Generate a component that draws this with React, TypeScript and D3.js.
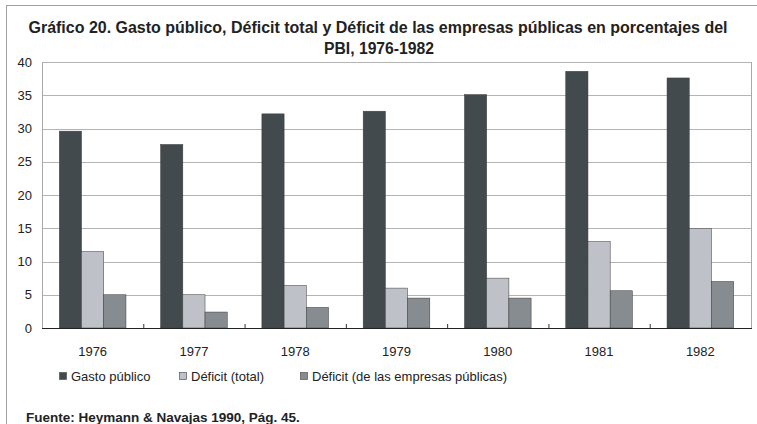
import React from "react";
import * as d3 from "d3";

const years = ["1976", "1977", "1978", "1979", "1980", "1981", "1982"];
const gastoPublico = [29.6, 27.6, 32.2, 32.6, 35.1, 38.6, 37.6];
const deficitTotal = [11.5, 5.0, 6.4, 6.0, 7.5, 13.0, 15.0];
const deficitEmpresas = [5.0, 2.4, 3.1, 4.5, 4.5, 5.6, 7.0];
const seriesNames = ["Gasto público", "Déficit (total)", "Déficit (de las empresas públicas)"];
const seriesColors = ["#434a4d", "#bec1c7", "#878c91"];
const yTicks = [0, 5, 10, 15, 20, 25, 30, 35, 40];

const W = 757;
const H = 424;
const M = { left: 42, right: 751, top: 62, bottom: 328 };

export default function App() {
  const series = [gastoPublico, deficitTotal, deficitEmpresas];
  const x = d3.scaleBand<string>().domain(years).range([M.left, M.right]).paddingInner(0).paddingOuter(0);
  const inner = d3
    .scaleBand<number>()
    .domain([0, 1, 2])
    .range([0, x.bandwidth()])
    .paddingOuter(0.78)
    .paddingInner(0);
  const y = d3.scaleLinear().domain([0, 40]).range([M.bottom, M.top]);
  const font = "'Liberation Sans', Arial, sans-serif";
  const legendX = [59, 179, 300];

  return (
    <svg width={W} height={H} style={{ position: "absolute", left: 0, top: 0, background: "#fff" }} fontFamily={font}>
      <rect x={0} y={0} width={W} height={H} fill="#fff" />
      {/* outer frame */}
      <line x1={6.5} y1={5} x2={6.5} y2={H} stroke="#a0a0a0" />
      <line x1={6} y1={5.5} x2={W} y2={5.5} stroke="#a0a0a0" />
      {/* title */}
      <text x={378} y={33} textAnchor="middle" fontSize={16} fontWeight="bold" fill="#222" textLength={699} lengthAdjust="spacingAndGlyphs">
        Gráfico 20. Gasto público, Déficit total y Déficit de las empresas públicas en porcentajes del
      </text>
      <text x={379} y={54} textAnchor="middle" fontSize={16} fontWeight="bold" fill="#222" textLength={110} lengthAdjust="spacingAndGlyphs">
        PBI, 1976-1982
      </text>
      {/* gridlines */}
      {yTicks.map((t) => (
        <g key={t}>
          {t > 0 && (
            <line x1={M.left} x2={M.right} y1={Math.round(y(t)) + 0.5} y2={Math.round(y(t)) + 0.5} stroke="#b4b4b4" />
          )}
          <text x={32} y={y(t)} dy="0.35em" textAnchor="end" fontSize={13} fill="#222">
            {t}
          </text>
        </g>
      ))}
      {/* plot border */}
      <line x1={M.left + 0.5} x2={M.left + 0.5} y1={M.top} y2={M.bottom} stroke="#a8a8a8" />
      <line x1={M.right + 0.5} x2={M.right + 0.5} y1={M.top} y2={M.bottom} stroke="#a8a8a8" />
      {/* bars */}
      {series.map((vals, si) =>
        vals.map((v, i) => (
          <rect
            key={`${si}-${i}`}
            x={(x(years[i]) as number) + (inner(si) as number)}
            y={y(v)}
            width={inner.bandwidth()}
            height={y(0) - y(v)}
            fill={seriesColors[si]}
            stroke="#3a3a3a"
            strokeWidth={0.5}
          />
        ))
      )}
      {/* x axis */}
      <line x1={M.left} x2={M.right + 1} y1={M.bottom + 0.5} y2={M.bottom + 0.5} stroke="#222" />
      {years.slice(1).map((yr) => (
        <line key={yr} x1={(x(yr) as number) + 0.5} x2={(x(yr) as number) + 0.5} y1={M.bottom} y2={M.bottom - 4} stroke="#333" />
      ))}
      {years.map((yr) => (
        <text key={yr} x={(x(yr) as number) + x.bandwidth() / 2} y={356} textAnchor="middle" fontSize={13} fill="#222">
          {yr}
        </text>
      ))}
      {/* legend */}
      {seriesNames.map((n, i) => (
        <g key={n}>
          <rect x={legendX[i] + 0.5} y={372.5} width={7} height={7} fill={seriesColors[i]} stroke="#555" strokeWidth={0.7} />
          <text x={legendX[i] + 12} y={381} fontSize={13} fill="#222">
            {n}
          </text>
        </g>
      ))}
      <text x={26} y={422} fontSize={13.5} fontWeight="bold" fill="#222">
        Fuente: Heymann &amp; Navajas 1990, Pág. 45.
      </text>
    </svg>
  );
}
